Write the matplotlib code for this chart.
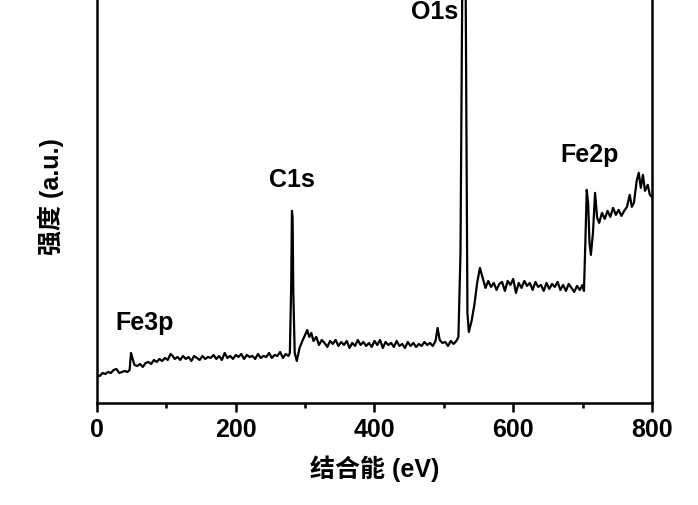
import matplotlib.pyplot as plt
from matplotlib.ticker import MultipleLocator

plt.rcParams['font.family'] = ['Liberation Sans', 'Noto Sans CJK SC', 'DejaVu Sans']

# XPS survey spectrum (binding energy in eV, intensity in a.u.)
energy = [0, 4, 8, 12, 16, 20, 24, 28, 32, 36, 40, 44, 47, 49, 51, 54, 58, 62, 66, 70,
          74, 78, 82, 86, 90, 94, 98, 102, 106, 109, 112, 116, 120, 124, 128, 132, 136, 140, 144, 148,
          152, 156, 160, 164, 168, 172, 176, 180, 184, 188, 192, 196, 200, 204, 208, 212, 216, 220, 224, 228,
          232, 236, 240, 244, 248, 252, 256, 260, 264, 268, 272, 276, 278, 280, 281, 282, 283, 285, 288, 292,
          296, 300, 303, 306, 309, 312, 316, 320, 324, 328, 332, 336, 340, 344, 348, 352, 356, 360, 364, 368,
          372, 376, 380, 384, 388, 392, 396, 400, 404, 408, 412, 416, 420, 424, 428, 432, 436, 440, 444, 448,
          452, 456, 460, 464, 468, 472, 476, 480, 484, 488, 491, 494, 498, 502, 506, 510, 514, 518, 521, 524,
          526, 528, 530, 532, 534, 536, 540, 544, 548, 552, 556, 560, 564, 568, 572, 576, 580, 584, 588, 592,
          596, 600, 604, 608, 612, 616, 620, 624, 628, 632, 636, 640, 644, 648, 652, 656, 660, 664, 668, 672,
          676, 680, 684, 688, 692, 696, 700, 702, 704, 706, 708, 710, 712, 715, 718, 721, 724, 728, 732, 736,
          740, 744, 748, 752, 756, 760, 764, 768, 771, 774, 778, 781, 784, 787, 790, 794, 797, 800]
intensity = [28, 27, 30, 29, 31, 30, 33, 34, 30, 31, 32, 31, 33, 50, 45, 38, 37, 39, 36, 40,
             41, 39, 43, 41, 44, 42, 45, 43, 49, 47, 44, 46, 43, 47, 44, 46, 42, 47, 45, 43,
             47, 44, 46, 45, 48, 44, 47, 43, 50, 45, 47, 44, 48, 46, 49, 44, 48, 46, 47, 44,
             49, 45, 47, 46, 50, 45, 48, 47, 51, 45, 49, 47, 50, 120, 192, 185, 110, 50, 42, 55,
             62, 68, 73, 66, 70, 62, 66, 58, 63, 60, 56, 62, 59, 63, 57, 61, 58, 62, 55, 60,
             57, 63, 58, 61, 57, 60, 56, 62, 58, 63, 55, 61, 58, 60, 56, 62, 57, 59, 55, 61,
             57, 60, 56, 59, 57, 61, 58, 60, 57, 62, 75, 63, 60, 61, 57, 62, 59, 62, 66, 150,
             350, 600, 600, 350, 90, 71, 82, 98, 120, 135, 125, 115, 122, 116, 120, 113, 119, 121, 112, 122,
             118, 124, 110, 120, 115, 122, 117, 120, 113, 121, 116, 118, 112, 120, 114, 119, 116, 121, 113, 118,
             112, 119, 115, 111, 117, 113, 118, 112, 160, 213, 200, 160, 148, 170, 210, 185, 180, 190, 184, 192,
             186, 195, 188, 193, 187, 192, 196, 208, 196, 200, 222, 230, 215, 228, 212, 218, 208, 206]

peak_names = ['O1s', 'C1s', 'Fe2p', 'Fe3p']
peak_x = [487, 281, 710, 69]
peak_y = [391, 223, 248, 80]

fig = plt.figure(figsize=(6.98, 5.05), dpi=100)
ax = fig.add_axes([0.139, 0.202, 0.795, 0.85])

ax.plot(energy, intensity, color='black', lw=1.6)

for name, px, py in zip(peak_names, peak_x, peak_y):
    ax.text(px, py, name, ha='center', va='center', fontsize=18, fontweight='bold')

ax.set_xlim(0, 800)
ax.set_ylim(0, 429)
ax.xaxis.set_major_locator(MultipleLocator(200))
ax.xaxis.set_minor_locator(MultipleLocator(100))
ax.set_yticks([])
ax.tick_params(axis='x', which='major', direction='out', length=6.5, width=1.8,
               labelsize=18, pad=4)
ax.tick_params(axis='x', which='minor', direction='out', length=3.5, width=1.8)
for lab in ax.get_xticklabels():
    lab.set_fontweight('bold')
for sp in ax.spines.values():
    sp.set_linewidth(1.8)

ax.set_xlabel('结合能 (eV)', fontsize=18, fontweight='bold', labelpad=10)
ax.set_ylabel('强度 (a.u.)', fontsize=18, fontweight='bold')
ax.yaxis.set_label_coords(-0.06, 0.48)

fig.savefig('out.png', dpi=100)
